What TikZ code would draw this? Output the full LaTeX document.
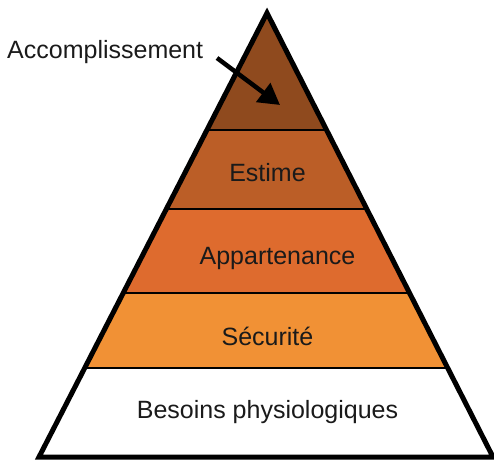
\documentclass[tikz,border=0pt]{standalone}
\usepackage{fontspec}
\setmainfont{Liberation Sans}
\usetikzlibrary{arrows.meta}
\definecolor{lvlA}{HTML}{8F4A1E}
\definecolor{lvlB}{HTML}{BB5E27}
\definecolor{lvlC}{HTML}{DE6B2E}
\definecolor{lvlD}{HTML}{F19135}
\definecolor{ink}{HTML}{1A1A1A}
\begin{document}
\begin{tikzpicture}[x=1pt,y=-1pt,
  label/.style={font=\fontsize{25}{28}\selectfont, text=ink, inner sep=0pt},
  sep/.style={line width=1.8pt, black},
  outline/.style={line width=5pt, black, line join=miter}]
\useasboundingbox (0,0) rectangle (494,461);
% pyramid corners
\coordinate (top) at (267,13);
\coordinate (bl) at (39,457);
\coordinate (br) at (493,457);
% coloured levels, clipped to the triangle
\begin{scope}
  \clip (top) -- (br) -- (bl) -- cycle;
  \fill[lvlA] (0,0) rectangle (494,130);
  \fill[lvlB] (0,130) rectangle (494,209);
  \fill[lvlC] (0,209) rectangle (494,293);
  \fill[lvlD] (0,293) rectangle (494,368);
  \fill[white] (0,368) rectangle (494,461);
  \draw[sep] (0,130) -- (494,130);
  \draw[sep] (0,209) -- (494,209);
  \draw[sep] (0,293) -- (494,293);
  \draw[sep] (0,368) -- (494,368);
\end{scope}
\draw[outline] (top) -- (br) -- (bl) -- cycle;
% level labels
\node[label] (estime) at (267.5,173) {Estime};
\node[label] (appart) at (277.5,258) {Appartenance};
\node[label] (secu) at (267.5,336) {Sécurité};
\node[label] (besoins) at (267.5,412) {Besoins physiologiques};
% top level label with its pointer
\node[label, anchor=west] (accomp) at (7,52) {Accomplissement};
\coordinate (pstart) at (217,58);
\coordinate (pend) at (280,105);
\draw[line width=4.5pt, -{Triangle[length=21pt,width=23pt]}] (pstart) -- (pend);
\end{tikzpicture}
\end{document}
